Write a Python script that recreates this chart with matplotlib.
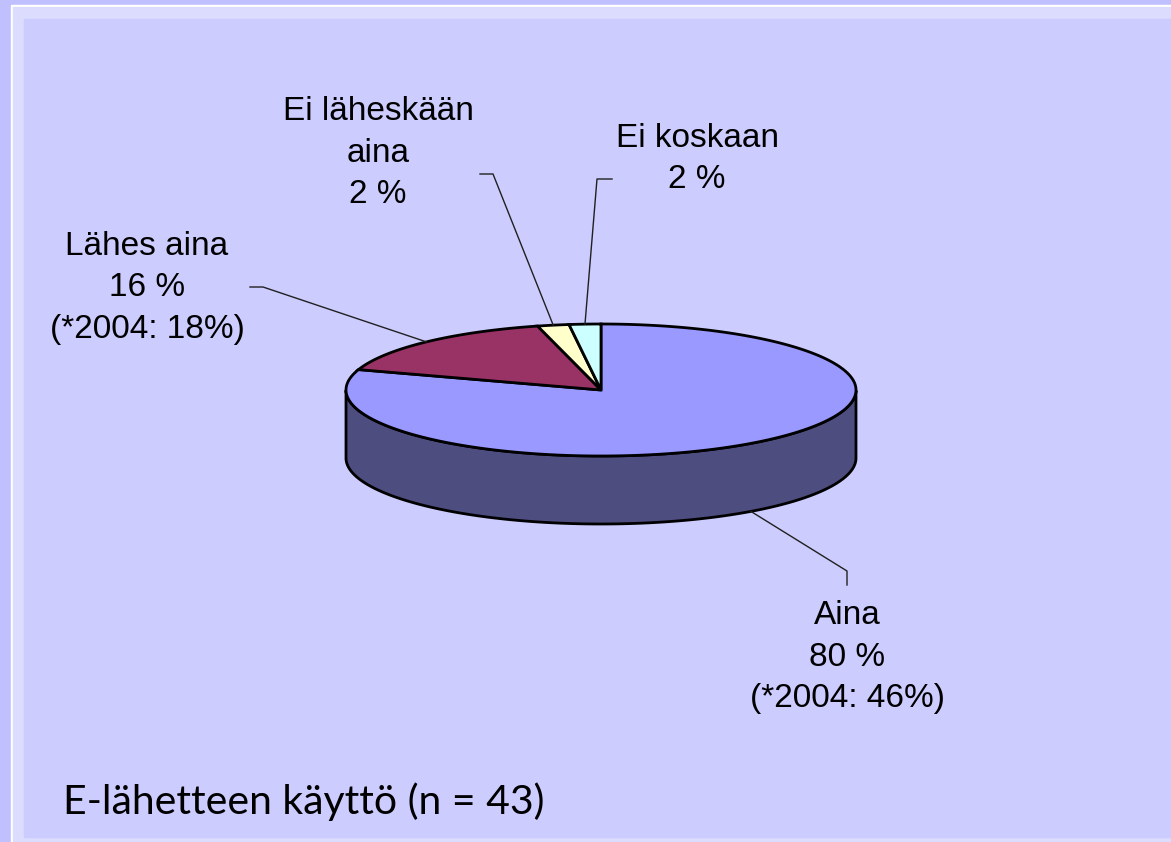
import numpy as np
import matplotlib.pyplot as plt
from matplotlib.patches import Polygon, Rectangle

# data
labels = ['Aina', 'Lähes aina', 'Ei läheskään\naina', 'Ei koskaan']
values = [80, 16, 2, 2]
notes = ['(*2004: 46%)', '(*2004: 18%)', '', '']
top_colors = ['#9999FF', '#993366', '#FFFFCC', '#CCFFFF']
side_colors = ['#4D4D80', '#4D1A33', '#808066', '#668080']
title = 'E-lähetteen käyttö (n = 43)'

# layout (pixels)
label_pos = [(847, 657), (147, 288), (378, 153), (697, 159)]
elbows = [[(847, 585), (847, 571)], [(250, 287), (263, 287)],
          [(480, 174), (493, 174)], [(612, 179), (597, 179)]]
cx, cy, rx, ry, depth = 601, 390, 255, 66, 68

W, H = 1171, 842
fig = plt.figure(figsize=(W / 100, H / 100), dpi=100)
ax = fig.add_axes([0, 0, 1, 1])
ax.set_xlim(0, W)
ax.set_ylim(H, 0)
ax.axis('off')

# frame / background
ax.add_patch(Rectangle((0, 0), W, H, color='#C0C0FF', zorder=0))
ax.add_patch(Rectangle((11, 5), W, H, color='white', zorder=0))
ax.add_patch(Rectangle((12.5, 6.5), W, H, color='#DCDCFF', zorder=0))
ax.add_patch(Rectangle((24, 19), W, 818, color='#CCCCFF', zorder=0))


def pt(t, dz=0.0):
    return cx + rx * np.cos(t), cy - ry * np.sin(t) + dz


total = sum(values)
start = 90.0
spans = []
for v in values:
    t0 = start
    t1 = start - v / total * 360
    spans.append((t0, t1))
    start = t1

# side walls (front half only)
for (t0, t1), col in zip(spans, side_colors):
    ts = np.radians(np.linspace(t1, t0, 600))
    front = np.sin(ts) <= 0
    if not front.any():
        continue
    idx = np.where(front)[0]
    runs = np.split(idx, np.where(np.diff(idx) > 1)[0] + 1)
    for r in runs:
        tt = ts[r]
        xt, yt = pt(tt)
        xb, yb = pt(tt[::-1], depth)
        poly = np.column_stack([np.r_[xt, xb], np.r_[yt, yb]])
        ax.add_patch(Polygon(poly, closed=True, fc=col, ec='black', lw=2, zorder=2))

# top faces
for (t0, t1), col in zip(spans, top_colors):
    ts = np.radians(np.linspace(t0, t1, 300))
    xs, ys = pt(ts)
    poly = np.column_stack([np.r_[cx, xs], np.r_[cy, ys]])
    ax.add_patch(Polygon(poly, closed=True, fc=col, ec='black', lw=2,
                         joinstyle='miter', zorder=3))

# labels and leader lines
for lab, v, note, (t0, t1), (lx, ly), el in zip(labels, values, notes, spans,
                                                 label_pos, elbows):
    tm = np.radians((t0 + t1) / 2)
    dz = depth if np.sin(tm) < 0 else 0
    ax_, ay_ = pt(tm, dz)
    xs = [p[0] for p in el] + [ax_]
    ys = [p[1] for p in el] + [ay_]
    ax.plot(xs, ys, color='#202020', lw=1, zorder=4)
    txt = f'{lab}\n{v} %' + (f'\n{note}' if note else '')
    ax.text(lx, ly, txt, ha='center', va='center', fontsize=24,
            family='Liberation Sans', linespacing=1.42, zorder=5)

ax.text(63, 802, title, ha='left', va='center', fontsize=29.5,
        family='Lato', zorder=5)

fig.savefig('out.png', dpi=100)
